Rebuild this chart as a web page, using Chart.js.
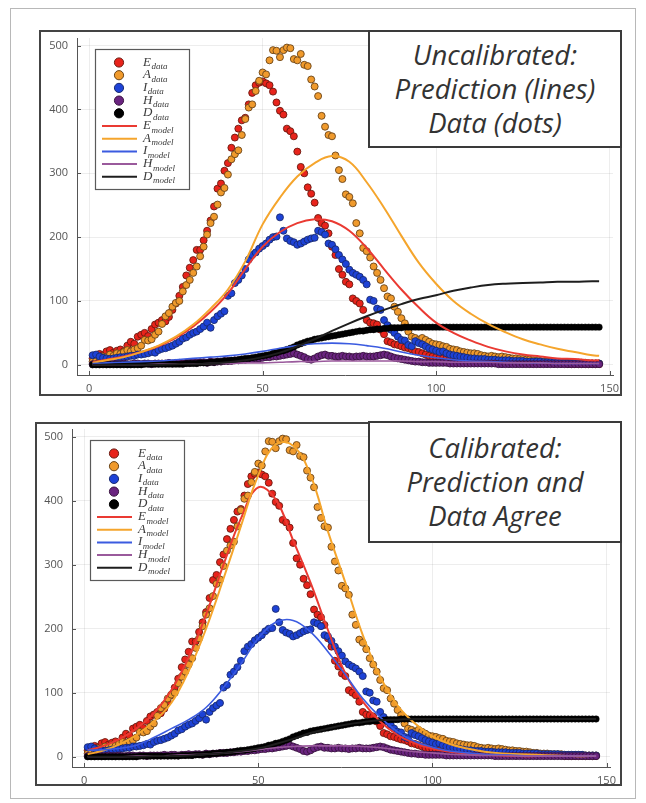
<!DOCTYPE html>
<html>
<head>
<meta charset="utf-8">
<script src="https://cdn.jsdelivr.net/npm/chart.js@4.4.0/dist/chart.umd.min.js"></script>
<style>
    body { margin: 0; background: #fff; width: 646px; height: 803px; position: relative; overflow: hidden; font-family: 'Open Sans', sans-serif; }
    .outer { position: absolute; left: 10px; top: 8px; width: 626px; height: 791px; border: 1px solid #b8b8b8; box-sizing: border-box; }
    .frame { position: absolute; border: 2px solid #444; box-sizing: border-box; pointer-events: none; }
    canvas { position: absolute; }
    .title { position: absolute; background: #fff; border: 2px solid #3a3a3a; box-sizing: border-box;
             display: flex; align-items: center; justify-content: center; text-align: center;
             font-style: italic; font-size: 27.5px; line-height: 34px; color: #333; }
</style>
</head>
<body>
<div class="outer"></div>

<canvas id="topChart" width="583" height="366" style="left:39px;top:30px;width:583px;height:366px"></canvas>
<div class="frame" style="left:39px;top:30px;width:583px;height:366px"></div>
<div class="title" style="left:368px;top:30px;width:254px;height:118px">Uncalibrated:<br>Prediction (lines)<br>Data (dots)</div>

<canvas id="bottomChart" width="587" height="364" style="left:35px;top:422px;width:587px;height:364px"></canvas>
<div class="frame" style="left:35px;top:422px;width:587px;height:364px"></div>
<div class="title" style="left:368px;top:421px;width:254px;height:122px">Calibrated:<br>Prediction and<br>Data Agree</div>

<script>
// ---- data (days 1..147) ----
const DAYS = Array.from({ length: 147 }, (_, i) => i + 1);

const E_DATA = [10,14,17,15,21,23,19,22,24,21, 30,36,33,44,47,50,45,56,63,66,
    70,68,75,86,96,108,122,140,152,164, 180,180,195,210,226,248,276,284,304,316,
    340,356,370,383,387,408,426,438,442,444, 441,438,428,411,398,392,370,366,358,334,
    310,300,278,268,254,230,222,218,206,185, 172,150,141,130,126,104,100,96,86,70,
    66,65,63,55,48,37,35,32,31,29, 27,26,24,21,20,18,16,14,13,12,
    11,10,10,9,9,8,8,7,7,6, 6,6,5,5,5,4,4,4,4,3,
    3,3,3,3,3,3,2,2,2,2, 2,2,2,2,2,2,2,1,1,1, 1,1,1,1,1,1,1];

const A_DATA = [5,6,10,13,12,16,14,18,17,20, 23,21,24,26,30,39,38,40,47,52,
    64,76,81,91,97,100,115,125,133,144, 154,170,185,204,222,232,251,270,277,298,
    322,330,336,360,385,403,408,429,445,458, 455,477,493,492,482,493,497,496,479,477,
    487,470,468,447,436,421,390,373,360,358, 328,305,291,267,263,253,222,206,183,178,
    168,154,144,133,120,107,104,91,83,73, 65,52,44,42,39,42,39,36,33,32,
    31,29,28,25,24,23,21,20,19,18, 18,17,15,14,13,14,13,12,13,12,
    11,10,10,9,9,8,8,7,6,6, 5,5,5,4,4,4,4,3,3,3, 3,3,3,2,2,2,2];

const I_DATA = [15,16,13,11,10,9,10,11,12,12, 13,14,14,16,16,17,18,20,19,23,
    25,26,28,30,33,36,41,43,47,50, 52,56,60,66,58,70,76,80,84,108,
    112,128,133,140,150,165,172,176,182,186, 190,196,200,201,231,210,198,194,192,188,
    190,193,196,198,199,210,208,204,190,188, 181,172,165,158,149,144,141,138,133,126,
    102,100,88,86,70,62,55,50,44,39, 38,31,29,37,34,32,29,26,24,22,
    20,21,18,16,15,14,13,12,11,10, 10,9,9,9,8,8,8,7,7,7,
    7,6,6,6,6,5,5,5,5,5, 4,4,4,4,4,4,3,3,3,3, 3,3,3,2,2,2,2];

const H_DATA = [1,1,1,2,1,1,2,1,1,2, 1,1,2,2,1,2,2,1,2,2,
    2,2,3,2,3,3,2,3,3,4, 3,4,4,3,5,4,5,5,6,6,
    6,7,7,8,8,9,9,10,10,11, 12,12,13,13,14,15,16,17,18,16,
    14,12,9,8,10,13,15,16,14,14, 13,13,14,13,13,12,13,13,14,13,
    13,13,14,15,16,15,13,11,10,9, 8,7,6,5,5,4,4,3,3,3,
    3,3,3,2,2,2,2,2,2,2, 2,2,2,2,2,2,2,1,1,1,
    1,1,1,1,1,1,1,1,1,1, 1,1,1,1,1,1,1,1,1,1, 1,1,1,1,1,1,1];

const D_DATA = [0,0,0,0,0,0,0,0,0,0, 0,0,0,0,0,1,1,1,1,1,
    1,1,1,1,1,1,1,2,2,2, 2,3,3,3,4,4,5,5,6,6,
    7,7,8,9,10,10,11,12,13,14, 15,16,18,19,21,22,24,26,28,31,
    33,35,37,38,40,41,42,43,44,45, 46,47,48,49,50,51,52,53,53,54,
    55,55,56,56,57,57,58,58,58,58, 59,59,59,59,59,59,59,59,59,59,
    59,59,59,59,59,59,59,59,59,59, 59,59,59,59,59,59,59,59,59,59,
    59,59,59,59,59,59,59,59,59,59, 59,59,59,59,59,59,59,59,59,59, 59,59,59,59,59,59,59];

// ---- model curves ----
const MODEL_DAYS = [1,5,10,15,20,25,30,35,40,45,50,55,60,65,70,75,80,85,90,95,100,105,110,115,120,125,130,135,140,145,147];

const E_MODEL_UNCAL = [4,8,13,20,29,42,60,83,112,150,185,208,222,228,225,210,183,150,118,90,66,50,38,28,21,16,13,10,9,7,7];
const A_MODEL_UNCAL = [3,7,12,20,30,44,63,88,118,162,220,262,295,316,327,318,286,246,202,160,127,100,80,64,51,40,32,25,20,15,14];
const I_MODEL_UNCAL = [2,3,4,5,6,8,10,12,14,17,21,26,30,33,34,33,30,26,20,15,11,8,6,5,4,3,3,2,2,2,2];
const H_MODEL_UNCAL = [0,0,0,0,1,1,1,2,2,3,3,4,5,5,6,6,6,6,6,5,5,4,4,4,3,3,3,2,2,2,2];
const D_MODEL_UNCAL = [0,0,0,0,0,1,1,2,4,7,12,19,29,40,53,65,76,86,95,103,109,116,121,125,127,128,129,130,130,131,131];

const E_MODEL_CAL = [10,16,27,44,68,104,155,222,300,372,421,402,338,272,198,130,86,55,34,21,13,8,5,3,2,1,1,1,1,1,1];
const A_MODEL_CAL = [4,9,19,34,55,84,134,200,278,360,440,488,486,440,352,272,190,125,80,52,32,20,13,8,5,4,3,2,1,1,1];
const I_MODEL_CAL = [10,11,13,18,30,44,58,77,108,145,185,210,213,195,164,128,91,62,39,24,15,9,6,4,3,2,1,1,1,1,1];
const H_MODEL_CAL = [0,0,0,1,1,2,3,4,6,8,11,14,16,17,17,17,16,14,11,8,6,4,3,2,2,1,1,1,1,1,1];
const D_MODEL_CAL = [0,0,0,0,1,1,2,4,6,9,13,20,28,37,44,50,54,57,58,59,59,59,59,59,59,59,59,59,59,59,59];

const X_TICKS = [0, 50, 100, 150];
const Y_TICKS = [0, 100, 200, 300, 400, 500];
const SERIES = ['E', 'A', 'I', 'H', 'D'];

const DOT_COLORS = { E: '#e8231b', A: '#f09a2c', I: '#1d42d6', H: '#6a2480', D: '#000000' };
const DOT_EDGES  = { E: '#6a1a10', A: '#6a4418', I: '#1a2a70', H: '#3a1440', D: '#000000' };
const LINE_COLORS = { E: '#ea3a32', A: '#f5a52c', I: '#3b5be0', H: '#9a5a9c', D: '#1e1e1e' };
const LINE_WIDTHS = { E: 2, A: 2, I: 1.6, H: 1.6, D: 2 };

const pts = (xs, ys) => xs.map((x, i) => ({ x, y: ys[i] }));

function dotSet(key, values, order) {
    return {
        label: key + ' data',
        data: pts(DAYS, values),
        backgroundColor: DOT_COLORS[key],
        borderColor: DOT_EDGES[key],
        borderWidth: key === 'D' ? 0.5 : 0.9,
        pointRadius: key === 'D' ? 3.2 : 3.5,
        showLine: false,
        order
    };
}

function lineSet(key, values, order) {
    return {
        label: key + ' model',
        data: pts(MODEL_DAYS, values),
        borderColor: LINE_COLORS[key],
        borderWidth: LINE_WIDTHS[key],
        pointRadius: 0,
        showLine: true,
        tension: 0.4,
        order
    };
}

// small inward ticks like the original plotting style
const innerTicks = {
    id: 'innerTicks',
    beforeDatasetsDraw(chart) {
        const { ctx, chartArea, scales } = chart;
        ctx.save();
        ctx.strokeStyle = '#555';
        ctx.lineWidth = 1;
        ctx.beginPath();
        X_TICKS.forEach(v => {
            const px = Math.round(scales.x.getPixelForValue(v)) + 0.5;
            ctx.moveTo(px, chartArea.bottom);
            ctx.lineTo(px, chartArea.bottom - 4);
        });
        Y_TICKS.forEach(v => {
            const py = Math.round(scales.y.getPixelForValue(v)) + 0.5;
            ctx.moveTo(chartArea.left, py);
            ctx.lineTo(chartArea.left + 4, py);
        });
        ctx.stroke();
        ctx.restore();
    }
};

// legend box inside the plot, with subscripted labels
const legendBox = {
    id: 'legendBox',
    afterDraw(chart) {
        const { ctx, chartArea } = chart;
        const x0 = Math.round(chartArea.left + 18), y0 = Math.round(chartArea.top + 11);
        ctx.save();
        ctx.fillStyle = '#fff';
        ctx.fillRect(x0, y0, 94, 140);
        ctx.strokeStyle = '#5a5a5a';
        ctx.lineWidth = 1.2;
        ctx.strokeRect(x0 + 0.5, y0 + 0.5, 94, 140);

        const rows = [];
        SERIES.forEach(k => rows.push({ k, sub: 'data', dot: true }));
        SERIES.forEach(k => rows.push({ k, sub: 'model', dot: false }));

        rows.forEach((r, i) => {
            const y = y0 + 13.5 + i * 12.7;
            if (r.dot) {
                ctx.beginPath();
                ctx.arc(x0 + 24, y, 4.6, 0, Math.PI * 2);
                ctx.fillStyle = DOT_COLORS[r.k];
                ctx.fill();
                ctx.strokeStyle = DOT_EDGES[r.k];
                ctx.lineWidth = 1;
                ctx.stroke();
            } else {
                ctx.beginPath();
                ctx.moveTo(x0 + 7, y);
                ctx.lineTo(x0 + 42, y);
                ctx.strokeStyle = LINE_COLORS[r.k];
                ctx.lineWidth = 2;
                ctx.stroke();
            }
            ctx.fillStyle = '#3a3a3a';
            ctx.textBaseline = 'alphabetic';
            ctx.font = 'italic 13px "Liberation Serif", serif';
            ctx.fillText(r.k, x0 + 48, y + 3);
            const w = ctx.measureText(r.k).width;
            ctx.font = 'italic 9px "Liberation Serif", serif';
            ctx.fillText(r.sub, x0 + 48 + w + 0.5, y + 6.5);
        });
        ctx.restore();
    }
};

function buildChart(id, models, pad, yWidth, xHeight) {
    const datasets = [];
    SERIES.forEach((k, i) => datasets.push(dotSet(k, [E_DATA, A_DATA, I_DATA, H_DATA, D_DATA][i], 20 - i)));
    SERIES.forEach((k, i) => datasets.push(lineSet(k, models[i], 10 - i)));

    const tickFont = { family: "'Open Sans', sans-serif", size: 11 };
    new Chart(document.getElementById(id), {
        type: 'scatter',
        data: { datasets },
        plugins: [innerTicks, legendBox],
        options: {
            responsive: false,
            animation: false,
            layout: { padding: pad },
            plugins: { legend: { display: false }, tooltip: { enabled: false } },
            scales: {
                x: {
                    type: 'linear',
                    min: -3.5,
                    max: 151,
                    afterBuildTicks: s => { s.ticks = X_TICKS.map(v => ({ value: v })); },
                    afterFit: s => { s.height = xHeight; s.paddingLeft = 0; s.paddingRight = 0; },
                    grid: { color: 'rgba(0,0,0,0.07)', drawTicks: false },
                    border: { display: true, color: '#555', width: 1 },
                    ticks: { padding: 7, color: '#555', font: tickFont, maxRotation: 0 }
                },
                y: {
                    type: 'linear',
                    min: -16,
                    max: 512,
                    afterBuildTicks: s => { s.ticks = Y_TICKS.map(v => ({ value: v })); },
                    afterFit: s => { s.width = yWidth; s.paddingTop = 0; s.paddingBottom = 0; },
                    grid: { color: 'rgba(0,0,0,0.07)', drawTicks: false },
                    border: { display: true, color: '#555', width: 1 },
                    ticks: { padding: 9, color: '#555', font: tickFont }
                }
            }
        }
    });
}

buildChart('topChart',
    [E_MODEL_UNCAL, A_MODEL_UNCAL, I_MODEL_UNCAL, H_MODEL_UNCAL, D_MODEL_UNCAL],
    { top: 8, right: 9, left: 0, bottom: 0 }, 38, 21);

buildChart('bottomChart',
    [E_MODEL_CAL, A_MODEL_CAL, I_MODEL_CAL, H_MODEL_CAL, D_MODEL_CAL],
    { top: 7, right: 12, left: 0, bottom: 0 }, 37, 19);
</script>
</body>
</html>
